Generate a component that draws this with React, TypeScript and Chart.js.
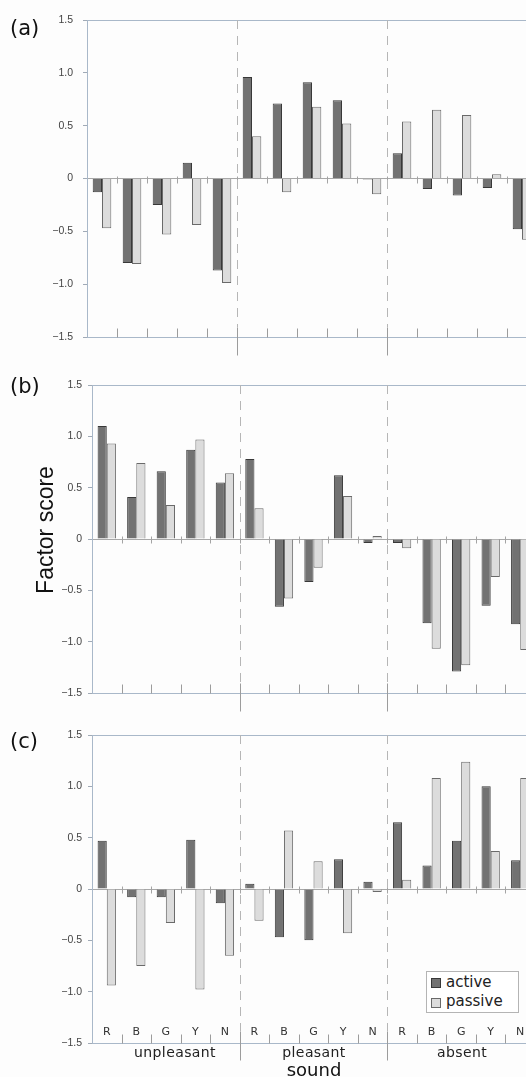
import React, { useEffect, useRef } from "react";
import { Chart, registerables } from "chart.js";

Chart.register(...registerables);

// ---------- data ----------
const colorLabels = ["R", "B", "G", "Y", "N"];
const groupLabels = ["unpleasant", "pleasant", "absent"];
const categories = [...colorLabels, ...colorLabels, ...colorLabels];
const seriesNames = ["active", "passive"];

const aActive = [-0.13, -0.8, -0.25, 0.15, -0.87, 0.96, 0.71, 0.91, 0.74, -0.01, 0.24, -0.1, -0.16, -0.09, -0.48];
const aPassive = [-0.47, -0.81, -0.53, -0.44, -0.99, 0.4, -0.13, 0.68, 0.52, -0.15, 0.54, 0.65, 0.6, 0.04, -0.58];

const bActive = [1.1, 0.41, 0.66, 0.87, 0.55, 0.78, -0.66, -0.42, 0.62, -0.04, -0.04, -0.82, -1.29, -0.65, -0.83];
const bPassive = [0.93, 0.74, 0.33, 0.97, 0.64, 0.3, -0.58, -0.28, 0.42, 0.03, -0.09, -1.07, -1.23, -0.37, -1.08];

const cActive = [0.47, -0.08, -0.08, 0.48, -0.14, 0.05, -0.47, -0.5, 0.29, 0.07, 0.65, 0.23, 0.47, 1.0, 0.28];
const cPassive = [-0.94, -0.75, -0.33, -0.98, -0.65, -0.31, 0.57, 0.27, -0.43, -0.03, 0.09, 1.08, 1.24, 0.37, 1.08];

const yTicks = [-1.5, -1.0, -0.5, 0, 0.5, 1.0, 1.5];
const yTickLabels = ["\u22121.5", "\u22121.0", "\u22120.5", "0", "0.5", "1.0", "1.5"];

const panelNames = ["(a)", "(b)", "(c)"];
const yTitle = "Factor score";
const xTitle = "sound";

// ---------- styles ----------
const ACTIVE_FILL = "#727272";
const ACTIVE_BORDER = "#383838";
const PASSIVE_FILL = "#dcdcdc";
const PASSIVE_BORDER = "#6a6a6a";
const FRAME = "#a9b8c9";

const decorPlugin = {
  id: "decor",
  beforeDatasetsDraw(chart: any, _args: any, opts: any) {
    const { ctx, chartArea } = chart;
    const x = chart.scales.x;
    const y = chart.scales.y;
    const n = chart.data.labels.length;
    const zero = Math.round(y.getPixelForValue(0)) + 0.5;
    const top = chartArea.top;
    const bottom = Math.round(chartArea.bottom) + 0.5;
    ctx.save();
    ctx.lineWidth = 1;
    for (let i = 1; i < n + 1; i++) {
      const px = Math.round(x.getPixelForValue(i - 0.5)) + 0.5;
      const isGroup = i % 5 === 0;
      ctx.strokeStyle = "#a4a4a4";
      ctx.beginPath();
      ctx.moveTo(px, zero - 3);
      ctx.lineTo(px, zero + 4);
      ctx.stroke();
      ctx.strokeStyle = "#9c9c9c";
      ctx.beginPath();
      ctx.moveTo(px, bottom - (isGroup ? opts.groupUp : 9));
      ctx.lineTo(px, bottom + (isGroup ? opts.groupDown : 0));
      ctx.stroke();
      if (isGroup) {
        ctx.strokeStyle = "#b6b6b6";
        ctx.setLineDash([9, 7]);
        ctx.beginPath();
        ctx.moveTo(px, top);
        ctx.lineTo(px, bottom - opts.groupUp);
        ctx.stroke();
        ctx.setLineDash([]);
      }
    }
    if (opts.showCats) {
      ctx.fillStyle = "#333";
      ctx.font = "11px 'DejaVu Sans', sans-serif";
      ctx.textAlign = "center";
      ctx.textBaseline = "middle";
      for (let i = 0; i < n; i++) {
        ctx.fillText(String(chart.data.labels[i]), x.getPixelForValue(i), chartArea.bottom - 11);
      }
    }
    ctx.restore();
  },
};

type PanelProps = {
  top: number;
  height: number;
  width: number;
  axisX: number;
  padTop: number;
  padBottom: number;
  labelPad: number;
  active: number[];
  passive: number[];
  showCats: boolean;
  groupUp: number;
  groupDown: number;
};

function Panel(p: PanelProps) {
  const ref = useRef<HTMLCanvasElement | null>(null);
  useEffect(() => {
    if (!ref.current) return;
    const chart = new Chart(ref.current, {
      type: "bar",
      data: {
        labels: categories,
        datasets: [
          {
            label: seriesNames[0],
            data: p.active,
            backgroundColor: ACTIVE_FILL,
            borderColor: ACTIVE_BORDER,
            borderWidth: 1,
          },
          {
            label: seriesNames[1],
            data: p.passive,
            backgroundColor: PASSIVE_FILL,
            borderColor: PASSIVE_BORDER,
            borderWidth: 1,
          },
        ],
      },
      options: {
        responsive: false,
        animation: false,
        devicePixelRatio: 1,
        layout: { padding: { left: 0, right: 0, top: p.padTop, bottom: p.padBottom } },
        datasets: { bar: { categoryPercentage: 0.62, barPercentage: 1.0 } },
        plugins: {
          legend: { display: false },
          tooltip: { enabled: false },
          decor: { showCats: p.showCats, groupUp: p.groupUp, groupDown: p.groupDown },
        } as any,
        scales: {
          x: { display: false, offset: true },
          y: {
            min: -1.5,
            max: 1.5,
            afterFit: (s: any) => {
              s.width = p.axisX;
            },
            afterBuildTicks: (s: any) => {
              s.ticks = yTicks.map((v) => ({ value: v }));
            },
            ticks: {
              autoSkip: false,
              padding: p.labelPad,
              color: "#444",
              font: { family: "'Liberation Sans', Arial, sans-serif", size: 10.5 },
              callback: (v: any) => {
                const idx = yTicks.findIndex((t) => Math.abs(t - Number(v)) < 1e-6);
                return idx >= 0 ? yTickLabels[idx] : "";
              },
            },
            grid: {
              drawTicks: true,
              tickLength: 4,
              tickColor: "#a0aab6",
              lineWidth: 1,
              color: (c: any) => {
                const v = c.tick ? c.tick.value : 1;
                if (Math.abs(Math.abs(v) - 1.5) < 1e-6) return FRAME;
                if (Math.abs(v) < 1e-6) return "#a8a8a8";
                return "rgba(0,0,0,0)";
              },
            },
            border: { display: true, color: FRAME, width: 1 },
          },
        },
      },
      plugins: [decorPlugin],
    });
    return () => chart.destroy();
  }, []);
  return (
    <canvas
      ref={ref}
      width={p.width}
      height={p.height}
      style={{ position: "absolute", left: 0, top: p.top, width: p.width, height: p.height }}
    />
  );
}

const abs = (extra: React.CSSProperties): React.CSSProperties => ({ position: "absolute", whiteSpace: "nowrap", ...extra });

export default function App() {
  const sans = "'DejaVu Sans', 'Noto Sans', sans-serif";
  return (
    <div
      style={{
        position: "absolute",
        left: 0,
        top: 0,
        width: 526,
        height: 1077,
        overflow: "hidden",
        background: "#fdfdfd",
        color: "#111",
      }}
    >
      <Panel top={0} height={360} width={537} axisX={87} padTop={20} padBottom={23} labelPad={10}
        active={aActive} passive={aPassive} showCats={false} groupUp={10} groupDown={18} />
      <Panel top={360} height={360} width={535} axisX={92} padTop={25} padBottom={27} labelPad={6}
        active={bActive} passive={bPassive} showCats={false} groupUp={10} groupDown={18} />
      <Panel top={720} height={357} width={535} axisX={92} padTop={15} padBottom={34} labelPad={6}
        active={cActive} passive={cPassive} showCats={true} groupUp={12} groupDown={17} />

      <div style={abs({ left: 10, top: 18, fontFamily: sans, fontSize: 21, lineHeight: "21px" })}>{panelNames[0]}</div>
      <div style={abs({ left: 10, top: 376, fontFamily: sans, fontSize: 21, lineHeight: "21px" })}>{panelNames[1]}</div>
      <div style={abs({ left: 10, top: 731, fontFamily: sans, fontSize: 21, lineHeight: "21px" })}>{panelNames[2]}</div>

      <div
        style={abs({
          left: 45 - 100,
          top: 530 - 14,
          width: 200,
          height: 28,
          lineHeight: "28px",
          textAlign: "center",
          fontFamily: "'Liberation Sans', Arial, sans-serif",
          fontSize: 23,
          transform: "rotate(-90deg)",
        })}
      >
        {yTitle}
      </div>

      <div style={abs({ left: 175 - 60, width: 120, top: 1045, textAlign: "center", fontFamily: sans, fontSize: 14, lineHeight: "14px", letterSpacing: 0.4, color: "#222" })}>{groupLabels[0]}</div>
      <div style={abs({ left: 314 - 60, width: 120, top: 1045, textAlign: "center", fontFamily: sans, fontSize: 14, lineHeight: "14px", letterSpacing: 0.4, color: "#222" })}>{groupLabels[1]}</div>
      <div style={abs({ left: 462 - 60, width: 120, top: 1045, textAlign: "center", fontFamily: sans, fontSize: 14, lineHeight: "14px", letterSpacing: 0.4, color: "#222" })}>{groupLabels[2]}</div>
      <div style={abs({ left: 314 - 60, width: 120, top: 1061, textAlign: "center", fontFamily: sans, fontSize: 18, lineHeight: "18px", color: "#111" })}>{xTitle}</div>

      <div
        style={abs({
          left: 426,
          top: 971,
          width: 91,
          height: 40,
          border: "1px solid #b4b4b4",
          background: "#fff",
          fontFamily: sans,
          fontSize: 15,
        })}
      >
        <div style={abs({ left: 4, top: 6, width: 8, height: 8, background: ACTIVE_FILL, border: `1px solid ${ACTIVE_BORDER}` })} />
        <div style={abs({ left: 19, top: 2, lineHeight: "17px", color: "#222" })}>{seriesNames[0]}</div>
        <div style={abs({ left: 4, top: 26, width: 8, height: 8, background: PASSIVE_FILL, border: `1px solid ${PASSIVE_BORDER}` })} />
        <div style={abs({ left: 19, top: 21, lineHeight: "17px", color: "#222" })}>{seriesNames[1]}</div>
      </div>
    </div>
  );
}
